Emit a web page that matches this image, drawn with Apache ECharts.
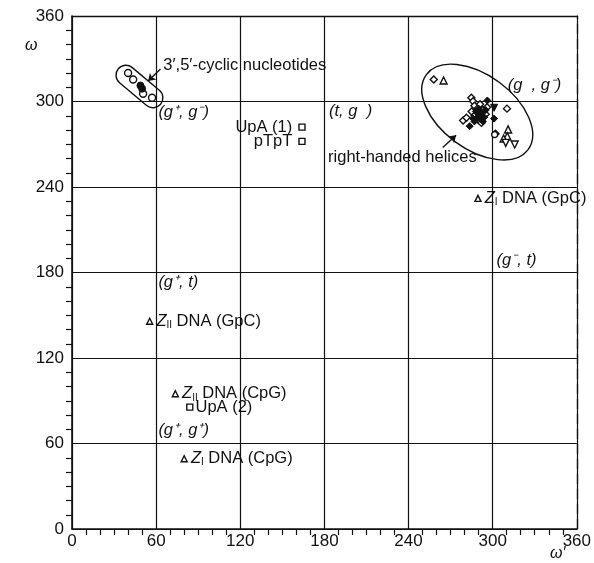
<!DOCTYPE html>
<html>
<head>
<meta charset="utf-8">
<script src="https://cdn.jsdelivr.net/npm/echarts@6/dist/echarts.min.js"></script>
<style>
  html, body { margin: 0; padding: 0; background: #fff; }
  #main { width: 594px; height: 563px; }
</style>
</head>
<body>
<div id="main"></div>
<script>
// axis ticks
const xTicks = [0, 60, 120, 180, 240, 300, 360]
const yTicks = [0, 60, 120, 180, 240, 300, 360]

// 3',5'-cyclic nucleotides [omega', omega]
const cyclicOpen = [[40, 320], [43.6, 315.4], [50.7, 305.4], [57.1, 302.6]]
const cyclicFilled = [[48.8, 311.2], [50, 309]]

// right-handed helices
const helixOpenDiamond = [
  [258, 315.4], [284.8, 302.6], [286, 300.2], [310.2, 295], [278.9, 286.7], [281.3, 288.6],
  [302, 277.3], [287, 297], [289, 295], [285, 293], [291, 298], [293, 294], [287, 290],
  [295, 291], [290, 287], [292, 285], [296, 296]
]
const helixFilledDiamond = [
  [296.2, 300.7], [301, 288], [283.6, 282.7], [288, 293], [290, 291], [292, 292], [289, 289],
  [291, 288], [294, 289], [293, 286], [287, 286], [295, 294], [290, 295], [286, 288]
]
const helixOpenTriangle = [[265, 314.7], [311, 280.4], [310.4, 275.6], [307.8, 274]]
const helixOpenDownTriangle = [[315.7, 269.8], [309.3, 271]]
const helixFilledDownTriangle = [[301, 295.6]]
const helixOpenCircle = [[301.4, 276.8]]

// labelled single conformations
const squareNames = ['UpA (1)', 'pTpT', 'UpA (2)']
const squarePoints = [[164, 282], [164, 272], [84, 85.5]]
const triangleNames = ['ZI_GpC', 'ZII_GpC', 'ZII_CpG', 'ZI_CpG']
const trianglePoints = [[289.5, 232], [55.4, 145.8], [73.7, 94.9], [80, 49.3]]

// region labels (text, left edge position in data units)
const regionTexts = ['(g⁺, g⁻)', '(t, g  )', '(g  , g⁻)', '(g⁺, t)', '(g⁻, t)', '(g⁺, g⁺)']
const regionPos = [[61.6, 292.3], [183.3, 293], [310.7, 311], [61.6, 172.9], [302.8, 188.4], [61.6, 69.1]]
const noteTexts = ['3′,5′-cyclic nucleotides', 'right-handed helices']
const notePos = [[65.1, 325.3], [182.6, 260.7]]

// enclosures: [cx, cy, half length, half width, angle], arrows: [from, to]
const capsules = [[48.1, 310.5, 19.5, 7, -40]]
const ellipses = [[289, 292.6, 44.7, 26.2, -36.4]]
const arrows = [[[63.1, 322.8], [54.3, 314.4]], [[264.4, 267.7], [273.9, 276.3]]]

const INK = '#111'
const FONT = '"Liberation Sans", Arial, sans-serif'
const FS = 16.5

const chart = echarts.init(document.getElementById('main'))

const openStyle = { color: '#fff', borderColor: INK, borderWidth: 1.4, opacity: 1 }
const filledStyle = { color: INK, borderColor: INK, borderWidth: 1, opacity: 1 }

function pts(name, data, symbol, size, style, rotate) {
  return {
    name, type: 'scatter', data, symbol, symbolSize: size, symbolRotate: rotate || 0,
    itemStyle: style, z: 5, silent: true
  }
}

const richZ = {
  z: { fontStyle: 'italic', fontSize: FS, color: INK, fontFamily: FONT },
  sub: { fontSize: 10, color: INK, fontFamily: FONT, padding: [8, 0, 0, 0] },
  t: { fontSize: FS, color: INK, fontFamily: FONT }
}
const triLabels = {
  ZI_GpC: '{z|Z}{sub|I}{t| DNA (GpC)}',
  ZII_GpC: '{z|Z}{sub|II}{t| DNA (GpC)}',
  ZII_CpG: '{z|Z}{sub|II}{t| DNA (CpG)}',
  ZI_CpG: '{z|Z}{sub|I}{t| DNA (CpG)}'
}

function enclosure(params, api) {
  const c = api.coord([api.value(0), api.value(1)])
  const s = api.size([1, 1])
  const k = (s[0] + s[1]) / 2
  const a = api.value(2) * k
  const b = api.value(3) * k
  const rot = api.value(4) * Math.PI / 180
  const kind = params.seriesName
  const shape = kind === 'capsule'
    ? { type: 'rect', shape: { x: -a, y: -b, width: 2 * a, height: 2 * b, r: b } }
    : { type: 'ellipse', shape: { cx: 0, cy: 0, rx: a, ry: b } }
  return Object.assign(shape, {
    x: c[0], y: c[1], rotation: rot,
    style: { fill: 'none', stroke: INK, lineWidth: 1.4 }
  })
}

const tickLabel = { color: INK, fontSize: 17, fontFamily: FONT }

chart.setOption({
  animation: false,
  backgroundColor: '#fff',
  grid: { left: 72, right: 17, top: 16, bottom: 34 },
  xAxis: [{
    type: 'value', min: 0, max: 360, interval: 60,
    axisLine: { onZero: false, lineStyle: { color: INK, width: 1.6 } },
    axisTick: { show: false },
    minorTick: { show: true, splitNumber: 6, length: 6, lineStyle: { color: INK, width: 1.2 } },
    axisLabel: Object.assign({
      margin: 4, formatter: v => xTicks.includes(v) ? String(v) : ''
    }, tickLabel),
    splitLine: { show: true, lineStyle: { color: INK, width: 1.2 } }
  }, {
    type: 'value', min: 0, max: 360, position: 'top',
    axisLine: { show: true, onZero: false, lineStyle: { color: INK, width: 1.3 } },
    axisTick: { show: false }, axisLabel: { show: false }, splitLine: { show: false }
  }],
  yAxis: [{
    type: 'value', min: 0, max: 360, interval: 60,
    axisLine: { show: true, onZero: false, lineStyle: { color: INK, width: 1.6 } },
    axisTick: { show: false },
    minorTick: { show: true, splitNumber: 6, length: 6, lineStyle: { color: INK, width: 1.2 } },
    axisLabel: Object.assign({
      margin: 8, formatter: v => yTicks.includes(v) ? String(v) : ''
    }, tickLabel),
    splitLine: { show: true, lineStyle: { color: INK, width: 1.2 } }
  }, {
    type: 'value', min: 0, max: 360, position: 'right',
    axisLine: { show: true, onZero: false, lineStyle: { color: INK, width: 1.3, type: [10, 5] } },
    axisTick: { show: false }, axisLabel: { show: false }, splitLine: { show: false }
  }],
  graphic: [
    { type: 'text', left: 25, top: 38, style: { text: 'ω', font: 'italic 16px ' + FONT, fill: INK } },
    { type: 'text', left: 550, top: 546, style: { text: 'ω′', font: 'italic 16px ' + FONT, fill: INK } }
  ],
  series: [
    { name: 'capsule', type: 'custom', renderItem: enclosure, data: capsules, z: 3, silent: true },
    { name: 'ellipse', type: 'custom', renderItem: enclosure, data: ellipses, z: 3, silent: true },
    {
      type: 'lines', coordinateSystem: 'cartesian2d', z: 4, silent: true,
      symbol: ['none', 'arrow'], symbolSize: 7,
      lineStyle: { color: INK, width: 1.4, opacity: 1 },
      data: arrows.map(a => ({ coords: a }))
    },
    pts('cyclic open', cyclicOpen, 'circle', 7, openStyle),
    pts('cyclic filled', cyclicFilled, 'circle', 7, filledStyle),
    pts('helix open diamond', helixOpenDiamond, 'diamond', 7, openStyle),
    pts('helix filled diamond', helixFilledDiamond, 'diamond', 7, filledStyle),
    pts('helix open triangle', helixOpenTriangle, 'triangle', 7, openStyle),
    pts('helix open down', helixOpenDownTriangle, 'triangle', 7, openStyle, 180),
    pts('helix filled down', helixFilledDownTriangle, 'triangle', 7, filledStyle, 180),
    pts('helix open circle', helixOpenCircle, 'circle', 6, openStyle),
    {
      name: 'squares', type: 'scatter', symbol: 'rect', symbolSize: 6, z: 5, silent: true,
      itemStyle: openStyle,
      data: squarePoints.map((p, i) => ({
        name: squareNames[i], value: p,
        label: { position: i < 2 ? 'left' : 'right', distance: i < 2 ? 6 : 2 }
      })),
      label: { show: true, formatter: '{b}', color: INK, fontSize: FS, fontFamily: FONT }
    },
    {
      name: 'triangles', type: 'scatter', symbol: 'triangle', symbolSize: 6, z: 5, silent: true,
      itemStyle: openStyle,
      data: trianglePoints.map((p, i) => ({ name: triangleNames[i], value: p })),
      label: {
        show: true, position: 'right', distance: 3,
        formatter: p => triLabels[p.name], rich: richZ
      }
    },
    {
      name: 'regions', type: 'scatter', symbolSize: 0, z: 6, silent: true,
      itemStyle: { opacity: 1 },
      data: regionPos.map((p, i) => ({ name: regionTexts[i], value: p })),
      label: {
        show: true, position: 'right', distance: 0, formatter: '{b}',
        color: INK, fontSize: FS, fontStyle: 'italic', fontFamily: FONT
      }
    },
    {
      name: 'notes', type: 'scatter', symbolSize: 0, z: 6, silent: true,
      itemStyle: { opacity: 1 },
      data: notePos.map((p, i) => ({ name: noteTexts[i], value: p })),
      label: {
        show: true, position: 'right', distance: 0, formatter: '{b}',
        color: INK, fontSize: FS, fontFamily: FONT
      }
    }
  ]
})
</script>
</body>
</html>
